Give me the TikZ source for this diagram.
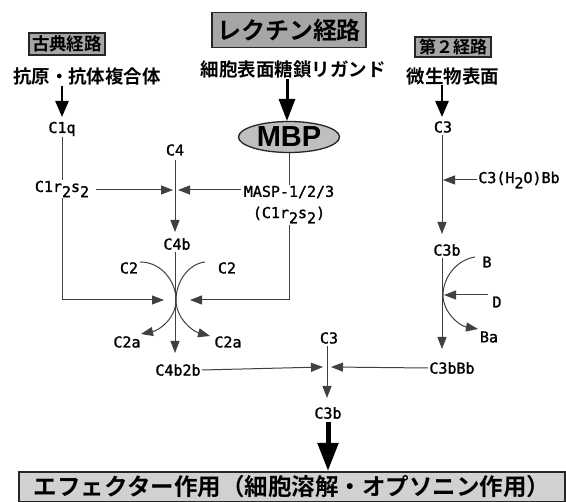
\documentclass[tikz,border=0pt]{standalone}
\usepackage{fontspec}
\usetikzlibrary{arrows.meta,shapes.geometric}
\newfontfamily\jpf{Noto Sans CJK JP}[BoldFont={* Bold}]
\newfontfamily\lbf{DejaVu Sans Mono}[FakeBold=1.4]
\newfontfamily\mbpf{Liberation Sans}
\newcommand{\sbt}[1]{\raisebox{-0.35em}{#1}}
\tikzset{
  lab/.style={font=\lbf\fontsize{15}{15}\selectfont, inner sep=1pt},
  jtx/.style={font=\jpf\bfseries\fontsize{18.5}{18.5}\selectfont, inner sep=0pt},
  gbox/.style={draw=black!85, line width=1.3pt, fill=black!35, inner sep=0pt, minimum height=22pt},
  ln/.style={draw=black!75, line width=1pt},
  arr/.style={ln, -{Triangle[length=12pt,width=9pt]}},
  thk/.style={draw=black, line width=2.4pt, -{Triangle[length=16pt,width=13pt]}},
  thkb/.style={draw=black, line width=3pt, -{Triangle[length=22pt,width=16pt]}},
  thkc/.style={draw=black, line width=5pt, -{Triangle[length=28pt,width=20pt]}},
}
\begin{document}
\begin{tikzpicture}[x=1pt,y=-1pt]
\useasboundingbox (0,0) rectangle (566,502);
% headers
\node[gbox, jtx, font=\jpf\bfseries\fontsize{17.5}{17.5}\selectfont, minimum width=76pt] (cls) at (67,44) {古典経路};
\node[gbox, jtx, font=\jpf\bfseries\fontsize{24}{24}\selectfont, minimum width=154pt, minimum height=35pt] (lec) at (289,30) {レクチン経路};
\node[gbox, jtx, font=\jpf\bfseries\fontsize{17}{17}\selectfont, minimum width=76pt, minimum height=20pt] (alt) at (453,47) {第２経路};
\node[jtx] (ag) at (87,76) {抗原・抗体複合体};
\node[jtx] (lig) at (293,70) {細胞表面糖鎖リガンド};
\node[jtx] (mic) at (453,76) {微生物表面};
% MBP
\node[ellipse, draw=black!85, line width=1.3pt, fill=black!25, minimum width=101pt, minimum height=31pt, inner sep=0pt,
      font=\mbpf\bfseries\fontsize{29}{29}\selectfont] (mbp) at (289,137) {MBP};
% labels
\node[lab] (c1q) at (62,129) {C1q};
\node[lab] (c1r) at (62,189) {C1r\sbt{2}s\sbt{2}};
\node[lab] (c4) at (175,150) {C4};
\node[lab] (c4b) at (177,244) {C4b};
\node[lab] (masp) at (289,192) {MASP-1/2/3};
\node[lab] (maspc) at (289,215) {(C1r\sbt{2}s\sbt{2})};
\node[lab] (c2l) at (129,268) {C2};
\node[lab] (c2r) at (227,268) {C2};
\node[lab] (c2al) at (127,342) {C2a};
\node[lab] (c2ar) at (228,342) {C2a};
\node[lab] (c4b2b) at (178,370) {C4b2b};
\node[lab] (c3m) at (329,338) {C3};
\node[lab] (c3bm) at (328,413) {C3b};
\node[lab] (c3r) at (443,127) {C3};
\node[lab] (c3h) at (519,180) {C3(H\sbt{2}O)Bb};
\node[lab] (c3br) at (447,250) {C3b};
\node[lab] (b) at (487,262) {B};
\node[lab] (d) at (497,302) {D};
\node[lab] (ba) at (489,337) {Ba};
\node[lab] (c3bbb) at (452,368) {C3bBb};
\node[draw=black!85, line width=1.3pt, fill=black!18, minimum width=546pt, minimum height=30pt, inner sep=0pt,
      font=\jpf\bfseries\fontsize{23.5}{23.5}\selectfont] (eff) at (292,487) {エフェクター作用（細胞溶解・オプソニン作用）};
% coordinates
\coordinate (t1) at (62,117);
\coordinate (t2) at (287,121);
\coordinate (t3) at (442,117);
\coordinate (s1) at (62,86);
\coordinate (s2) at (287,79);
\coordinate (s3) at (442,85);
\coordinate (jl) at (173,190);
\coordinate (jr) at (178,190);
\coordinate (c4t) at (175,232);
\coordinate (c4s) at (175,160);
\coordinate (c4bs) at (175,252);
\coordinate (k) at (175,353);
\coordinate (cl1) at (62,300);
\coordinate (cl2) at (164,300);
\coordinate (cr1) at (289,300);
\coordinate (cr2) at (190,300);
\coordinate (mid) at (176,300);
\coordinate (c2ls) at (140,262);
\coordinate (c2le) at (141,334);
\coordinate (c2rs) at (205,262);
\coordinate (c2re) at (210,336);
\coordinate (r1) at (442,135);
\coordinate (r2) at (442,234);
\coordinate (r3) at (443,180);
\coordinate (r4) at (442,258);
\coordinate (r5) at (442,349);
\coordinate (bs) at (475,257);
\coordinate (bm) at (443,295);
\coordinate (be) at (478,329);
\coordinate (dt) at (444,295);
\coordinate (jm1) at (323,367);
\coordinate (jm2) at (331,367);
\coordinate (m1) at (327,346);
\coordinate (m2) at (327,398);
\coordinate (e1) at (328,422);
\coordinate (e2) at (328,471);
% connectors
\draw[thk] (s1) -- (t1);
\draw[thkb] (s2) -- (t2);
\draw[thk] (s3) -- (t3);
\draw[ln] (c1q) -- (c1r);
\draw[arr] (c1r.east |- jl) ++(6,0) -- (jl);
\draw[arr] (masp.west |- jr) ++(-2,0) -- (jr);
\draw[ln] (mbp.south) -- (masp.north);
\draw[arr] (c4s) -- (c4t);
\draw[arr] (c4bs) -- (k);
\draw[arr] (c1r.south) -- (cl1) -- (cl2);
\draw[arr] (maspc.south) -- (cr1) -- (cr2);
\draw[arr] (c2ls) .. controls (162,262) and (176,282) .. (mid) .. controls (176,318) and (160,330) .. (c2le);
\draw[arr] (c2rs) .. controls (188,264) and (176,282) .. (mid) .. controls (176,318) and (192,331) .. (c2re);
\draw[arr] (r1) -- (r2);
\draw[arr] (c3h.west) -- (r3);
\draw[arr] (r4) -- (r5);
\draw[arr] (bs) .. controls (456,260) and (443,278) .. (bm) .. controls (443,313) and (460,326) .. (be);
\draw[arr] (d.west |- dt) ++(-3,0) -- (dt);
\draw[arr] (c4b2b.east) -- (jm1);
\draw[arr] (c3bbb.west) -- (jm2);
\draw[arr] (m1) -- (m2);
\draw[thkc] (e1) -- (e2);
\end{tikzpicture}
\end{document}
